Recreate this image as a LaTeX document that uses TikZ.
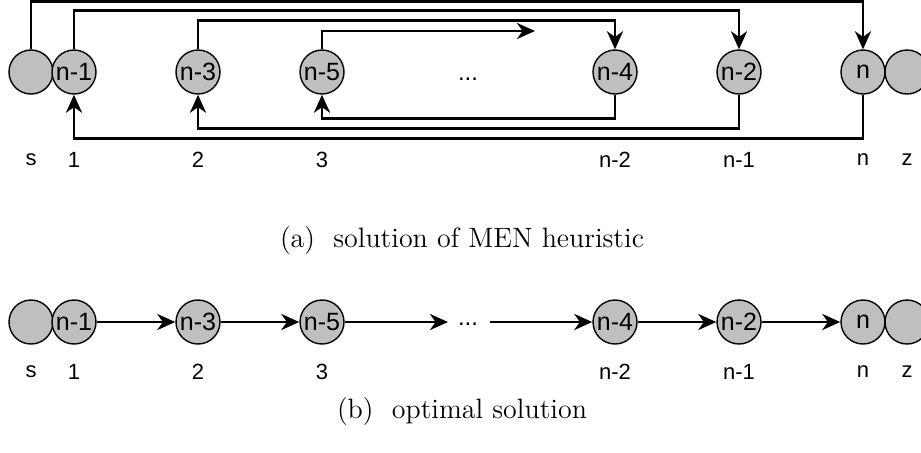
\documentclass[tikz,border=0pt]{standalone}
\usepackage{fontspec}
\newfontfamily\arialfont{Liberation Sans}
\usetikzlibrary{arrows.meta}

\begin{document}
\begin{tikzpicture}[
  x=0.5pt, y=-0.5pt,
  city/.style   = {circle, draw=black, fill=gray!50, line width=0.7pt,
                   minimum size=22pt, inner sep=0pt,
                   font=\fontsize{12.5}{12.5}\arialfont},
  poslbl/.style = {font=\fontsize{11}{11}\arialfont, inner sep=1pt},
  dotlbl/.style = {font=\fontsize{12}{12}\arialfont, inner sep=0pt},
  arr/.style    = {-{Stealth[length=9pt,width=8pt,inset=2.8pt]},
                   line width=1.4pt},
  capt/.style   = {font=\fontsize{14}{16}\selectfont},
]
\useasboundingbox (0,0) rectangle (921,452);

%% (a) MEN heuristic
\node[city] (s)  at ( 31,72) {};
\node[city] (v1) at ( 74,72) {n-1};
\node[city] (v3) at (198,72) {n-3};
\node[city] (v5) at (322,72) {n-5};
\node[dotlbl] (d) at (468,79) {...};
\node[city] (v4) at (615,72) {n-4};
\node[city] (v2) at (739,72) {n-2};
\node[city] (vn) at (863,72) {n};
\node[city] (z)  at (907,72) {};

\coordinate (e5) at (535,31);

\draw[arr] (s.north)  -- ++(0,-48) -| (vn.north);
\draw[arr] (v1.north) -- ++(0,-39) -| (v2.north);
\draw[arr] (v3.north) -- ++(0,-29) -| (v4.north);
\draw[arr] (v5.north) |- (e5);

\draw[arr] (v4.south) -- ++(0,24) -| (v5.south);
\draw[arr] (v2.south) -- ++(0,34) -| (v3.south);
\draw[arr] (vn.south) -- ++(0,44) -| (v1.south);

\node[poslbl] (ps) at ( 31,160) {s};
\node[poslbl] (p1) at ( 74,160) {1};
\node[poslbl] (p2) at (198,160) {2};
\node[poslbl] (p3) at (322,160) {3};
\node[poslbl] (p4) at (615,160) {n-2};
\node[poslbl] (p5) at (739,160) {n-1};
\node[poslbl] (p6) at (863,160) {n};
\node[poslbl] (pz) at (907,160) {z};

\node[capt] (ca) at (462,241) {(a)\ \ solution of MEN heuristic};

%% (b) optimal solution
\node[city] (bs) at ( 31,322) {};
\node[city] (b1) at ( 74,322) {n-1};
\node[city] (b3) at (198,322) {n-3};
\node[city] (b5) at (322,322) {n-5};
\node[dotlbl] (bd) at (468,324) {...};
\node[city] (b4) at (615,322) {n-4};
\node[city] (b2) at (739,322) {n-2};
\node[city] (bn) at (863,322) {n};
\node[city] (bz) at (907,322) {};

\coordinate (f5) at (448,322);
\coordinate (f4) at (490,322);

\draw[arr] (b1) -- (b3);
\draw[arr] (b3) -- (b5);
\draw[arr] (b5) -- (f5);
\draw[arr] (f4) -- (b4);
\draw[arr] (b4) -- (b2);
\draw[arr] (b2) -- (bn);

\node[poslbl] (qs) at ( 31,372) {s};
\node[poslbl] (q1) at ( 74,372) {1};
\node[poslbl] (q2) at (198,372) {2};
\node[poslbl] (q3) at (322,372) {3};
\node[poslbl] (q4) at (615,372) {n-2};
\node[poslbl] (q5) at (739,372) {n-1};
\node[poslbl] (q6) at (863,372) {n};
\node[poslbl] (qz) at (907,372) {z};

\node[capt] (cb) at (462,412) {(b)\ \ optimal solution};

\end{tikzpicture}
\end{document}
